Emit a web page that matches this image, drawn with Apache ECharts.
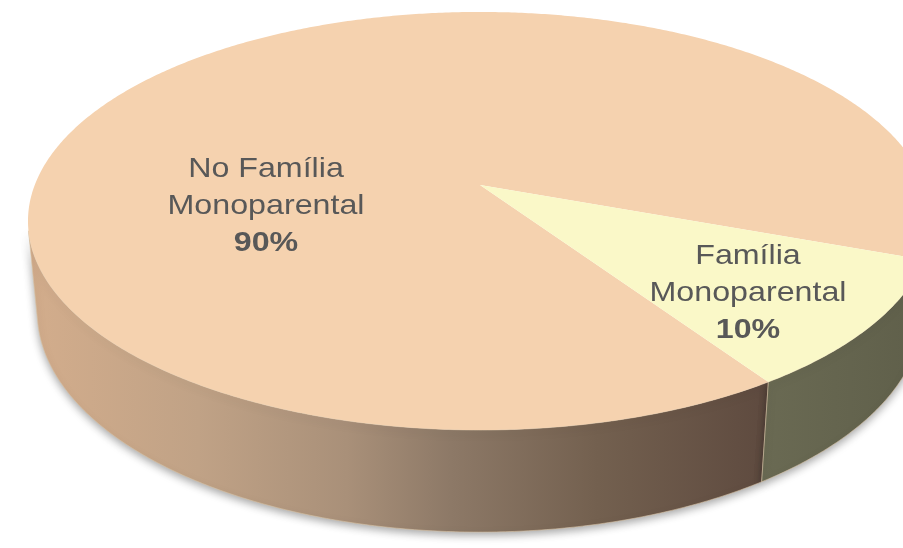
<!DOCTYPE html>
<html>
<head>
<meta charset="utf-8">
<script src="https://cdn.jsdelivr.net/npm/echarts@6/dist/echarts.min.js"></script>
<style>
    html, body {margin: 0; background: #fff;}
    #main {width: 903px; height: 548px;}
</style>
</head>
<body>
<div id="main"></div>
<script>
// datos
var categories = ['No Família\nMonoparental', 'Família\nMonoparental'];
var values = [90, 10];

// estilos
var topColors = ['#F5D2AF', '#FAF8C8'];
var wallColors = [
    [[0, '#D3AD8C'], [0.23, '#C0A286'], [0.43, '#A99079'], [0.57, '#8D7967'], [0.77, '#73604F'], [1, '#5E4A3F']],
    [[0, '#6A6A53'], [1, '#5F5F4A']]
];
var labelAt = [[266, 206], [748, 293]];

// vista en perspectiva del disco
var view = {cx: 480, cy: 185, f: 2302, d: 5.17, tilt: 27.1, h: 0.231, start: 56.3};

function project(deg, r, yw) {
    var t = deg * Math.PI / 180, a = view.tilt * Math.PI / 180;
    var X = r * Math.cos(t), Z = r * Math.sin(t);
    var yc = yw * Math.cos(a) - Z * Math.sin(a);
    var zc = view.d - (Z * Math.cos(a) + yw * Math.sin(a));
    return [view.cx + view.f * X / zc, view.cy - view.f * yc / zc];
}

function arc(a0, a1, yw) {
    let pts = [];
    let n = Math.max(2, Math.ceil(Math.abs(a1 - a0) * 2));
    for (let k = 0; k <= n; k++) {
        pts.push(project(a0 + (a1 - a0) * k / n, 1, yw));
    }
    return pts;
}

function renderItem(params, api) {
    let i = params.dataIndex;
    let total = 0, before = 0;
    for (let j = 0; j < values.length; j++) {
        total += values[j];
        if (j < i) before += values[j];
    }
    let a0 = view.start + before / total * 360;
    let a1 = a0 + values[i] / total * 360;
    let children = [];

    // pared lateral visible
    let lim = Math.asin(1 / (view.d * Math.cos(view.tilt * Math.PI / 180))) * 180 / Math.PI;
    [0, 360].forEach(function (k) {
        let lo = Math.max(a0, lim + k), hi = Math.min(a1, 180 - lim + k);
        if (lo < hi) {
            let pts = arc(lo, hi, 0).concat(arc(hi, lo, -view.h));
            let xs = pts.map(function (p) { return p[0]; });
            let x0 = Math.min.apply(null, xs), x1 = Math.max.apply(null, xs);
            children.push({
                type: 'polygon',
                z2: 1,
                shape: {points: pts},
                style: {
                    fill: new echarts.graphic.LinearGradient(x0, 0, x1, 0,
                        wallColors[i].map(function (s) { return {offset: s[0], color: s[1]}; }), true),
                    stroke: '#D9C2A4',
                    lineWidth: 0.6,
                    shadowColor: 'rgba(0,0,0,0.35)',
                    shadowBlur: 8,
                    shadowOffsetY: 3
                }
            });
        }
    });

    // cara superior
    children.push({
        type: 'polygon',
        z2: 5,
        shape: {points: [project(0, 0, 0)].concat(arc(a0, a1, 0))},
        style: {fill: topColors[i]}
    });

    // etiqueta
    children.push({
        type: 'text',
        z2: 10,
        x: labelAt[i][0],
        y: labelAt[i][1],
        scaleX: 1.15,
        style: {
            text: categories[i] + '\n{b|' + values[i] + '%}',
            font: '28px "Liberation Sans", Arial, sans-serif',
            fill: '#585858',
            align: 'center',
            verticalAlign: 'middle',
            lineHeight: 37,
            rich: {
                b: {
                    font: 'bold 28px "Liberation Sans", Arial, sans-serif',
                    fill: '#585858',
                    lineHeight: 37
                }
            }
        }
    });

    return {type: 'group', children: children};
}

var myChart = echarts.init(document.getElementById('main'));
var option = {
    backgroundColor: '#ffffff',
    animation: false,
    series: [{
        type: 'custom',
        coordinateSystem: 'none',
        renderItem: renderItem,
        data: values.map(function (v, i) { return {name: categories[i], value: v}; })
    }]
};
myChart.setOption(option);
</script>
</body>
</html>
